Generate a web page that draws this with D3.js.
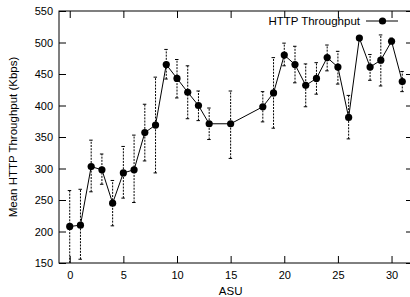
<!DOCTYPE html>
<html>
<head>
<meta charset="utf-8">
<script src="https://cdn.jsdelivr.net/npm/d3@7"></script>
<style>
  body { margin: 0; background: #fff; }
  text { font-family: "Liberation Sans", Arial, sans-serif; fill: #000; }
</style>
</head>
<body>
<div id="chart"></div>
<script>
var asu = [0, 1, 2, 3, 4, 5, 6, 7, 8, 9, 10, 11, 12, 13, 15, 18, 19, 20, 21, 22, 23, 24, 25, 26, 27, 28, 29, 30, 31];
var throughput = [208, 210, 303, 298, 245, 293, 298, 357, 369, 465, 443, 421, 400, 371, 371, 398, 420, 480, 465, 432, 443, 476, 461, 381, 507, 461, 472, 502, 438];
var errLow = [140, 156, 263, 275, 209, 253, 246, 312, 293, 442, 412, 379, 376, 346, 316, 374, 364, 463, 436, 398, 418, 455, 434, 347, 504, 440, 431, 499, 422];
var errHigh = [265, 267, 345, 323, 281, 335, 353, 402, 445, 489, 473, 463, 423, 396, 423, 422, 476, 499, 494, 466, 468, 496, 486, 416, 510, 481, 512, 507, 454];
var xTicks = [0, 5, 10, 15, 20, 25, 30];
var yTicks = [150, 200, 250, 300, 350, 400, 450, 500, 550];

var data = asu.map(function(a, i) {
  return { asu: a, v: throughput[i], lo: errLow[i], hi: errHigh[i] };
});

var svgWidth = 410;
var svgHeight = 297;
var margin = { top: 11, right: -3, bottom: 34, left: 59 };
var width = svgWidth - margin.left - margin.right;
var height = svgHeight - margin.top - margin.bottom;

var svg = d3.select("#chart")
  .append("svg")
  .attr("width", svgWidth)
  .attr("height", svgHeight);

svg.append("defs").append("clipPath")
  .attr("id", "plotclip")
  .append("rect")
  .attr("width", width)
  .attr("height", height);

var g = svg.append("g")
  .attr("transform", `translate(${margin.left}, ${margin.top})`);

var x = d3.scaleLinear().domain([-1, 32]).range([0, width]);
var y = d3.scaleLinear().domain([150, 550]).range([height, 0]);

var tick = 7;

// ticks on all four sides, pointing inward
g.append("g")
  .attr("transform", `translate(0, ${height})`)
  .call(d3.axisBottom(x).tickValues(xTicks).tickSizeInner(-tick).tickSizeOuter(0).tickPadding(8))
  .call(function(s) { s.select(".domain").remove(); });

g.append("g")
  .call(d3.axisTop(x).tickValues(xTicks).tickSizeInner(-tick).tickSizeOuter(0).tickFormat(""))
  .call(function(s) { s.select(".domain").remove(); });

g.append("g")
  .call(d3.axisLeft(y).tickValues(yTicks).tickSizeInner(-tick).tickSizeOuter(0).tickPadding(6))
  .call(function(s) { s.select(".domain").remove(); });

g.append("g")
  .attr("transform", `translate(${width}, 0)`)
  .call(d3.axisRight(y).tickValues(yTicks).tickSizeInner(-tick).tickSizeOuter(0).tickFormat(""))
  .call(function(s) { s.select(".domain").remove(); });

g.selectAll(".tick text")
  .style("font-size", "11px")
  .style("font-family", "'Liberation Sans', Arial, sans-serif");
g.selectAll(".tick line").attr("stroke", "#000");

g.append("rect")
  .attr("width", width)
  .attr("height", height)
  .attr("fill", "none")
  .attr("stroke", "#000")
  .attr("stroke-width", 1);

var plot = g.append("g").attr("clip-path", "url(#plotclip)");

// error bars
var bars = plot.selectAll(".err")
  .data(data)
  .enter()
  .append("g");

bars.append("line")
  .attr("x1", d => x(d.asu))
  .attr("x2", d => x(d.asu))
  .attr("y1", d => y(d.lo))
  .attr("y2", d => y(d.hi))
  .attr("stroke", "#000")
  .attr("stroke-width", 1)
  .attr("stroke-dasharray", "2,1.2");

bars.append("line")
  .attr("x1", d => x(d.asu) - 2)
  .attr("x2", d => x(d.asu) + 1.5)
  .attr("y1", d => y(d.hi))
  .attr("y2", d => y(d.hi))
  .attr("stroke", "#000")
  .attr("stroke-width", 1);

bars.append("line")
  .attr("x1", d => x(d.asu) - 2)
  .attr("x2", d => x(d.asu) + 1.5)
  .attr("y1", d => y(d.lo))
  .attr("y2", d => y(d.lo))
  .attr("stroke", "#000")
  .attr("stroke-width", 1);

var line = d3.line()
  .x(d => x(d.asu))
  .y(d => y(d.v));

plot.append("path")
  .datum(data)
  .attr("d", line)
  .attr("fill", "none")
  .attr("stroke", "#000")
  .attr("stroke-width", 1);

plot.selectAll("circle")
  .data(data)
  .enter()
  .append("circle")
  .attr("cx", d => x(d.asu))
  .attr("cy", d => y(d.v))
  .attr("r", 3.6)
  .attr("fill", "#000");

// legend
var legend = g.append("g").attr("transform", "translate(0, 10)");
legend.append("text")
  .attr("x", 301)
  .attr("y", 4)
  .attr("text-anchor", "end")
  .style("font-size", "11.5px")
  .text("HTTP Throughput");
legend.append("line")
  .attr("x1", 307)
  .attr("x2", 339)
  .attr("y1", 0)
  .attr("y2", 0)
  .attr("stroke", "#000");
legend.append("circle")
  .attr("cx", 323.5)
  .attr("cy", 0)
  .attr("r", 3.6)
  .attr("fill", "#000");

// axis titles
svg.append("text")
  .attr("x", margin.left + x(15))
  .attr("y", 295)
  .attr("text-anchor", "middle")
  .style("font-size", "11.5px")
  .text("ASU");

svg.append("text")
  .attr("transform", `translate(17, ${margin.top + height / 2}) rotate(-90)`)
  .attr("text-anchor", "middle")
  .style("font-size", "11.5px")
  .text("Mean HTTP Throughput (Kbps)");
</script>
</body>
</html>
